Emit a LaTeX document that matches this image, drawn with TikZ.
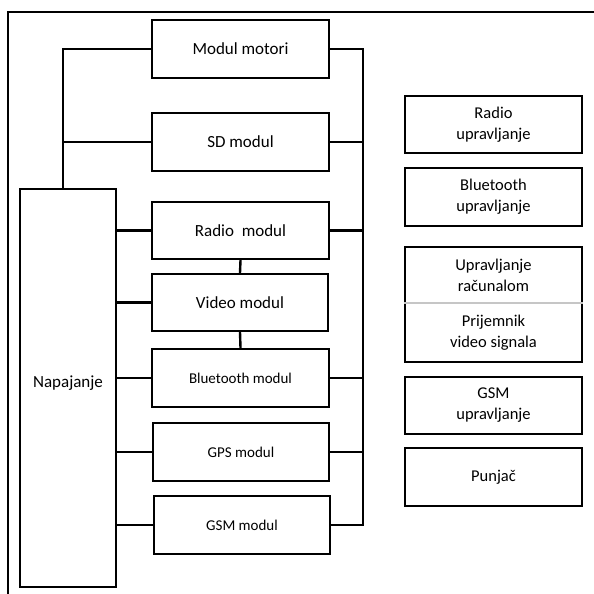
\documentclass[tikz,border=0pt]{standalone}
\usepackage{fontspec}
\setmainfont{Carlito}
\begin{document}
\begin{tikzpicture}[x=1pt,y=-1pt,
  wire/.style={line width=2.4pt},
  blk/.style={draw, line width=2.4pt, minimum width=177pt, minimum height=58pt,
              inner sep=0pt, align=center, font=\fontsize{17}{20}\selectfont},
  smallblk/.style={blk, font=\fontsize{15}{18}\selectfont},
  ctl/.style={blk, font=\fontsize{16.5}{21}\selectfont}]
\useasboundingbox (0,0) rectangle (594,594);

% outer frame (top and left edges)
\coordinate (ftl) at (8,12);
\coordinate (ftr) at (594,12);
\coordinate (fbl) at (8,594);
\draw[wire] (ftr) -- (ftl) -- (fbl);

% power supply
\node[blk, minimum width=96pt, minimum height=398pt] (nap) at (68,388) {};
\node[font=\fontsize{17}{20}\selectfont] at (68,383) {Napajanje};

% modules
\node[blk] (mot) at (240.5,49) {Modul motori};
\node[blk] (sd)  at (240.5,142) {SD modul};
\node[blk, minimum height=57pt] (rad) at (240.5,230.5) {Radio\ \ modul};
\node[blk, minimum width=176pt, minimum height=57pt] (vid) at (240,302.5) {Video modul};
\node[smallblk] (bt)  at (240.5,378) {Bluetooth modul};
\node[smallblk, minimum width=176pt] (gps) at (241,452) {GPS modul};
\node[smallblk, minimum width=176pt] (gsm) at (242,525) {GSM modul};

% bus lines
\coordinate (lbus) at (63,0);
\coordinate (rbus) at (363,0);
\draw[wire] (mot.west) -| (lbus |- nap.north);
\draw[wire] (sd.west) -- (lbus |- sd.west);
\draw[wire] (mot.east) -| (rbus |- gsm.east) -- (gsm.east);
\foreach \m in {sd,rad,bt,gps}
  \draw[wire] (\m.east) -- (rbus |- \m.east);
\foreach \m in {rad,vid,bt,gps,gsm}
  \draw[wire] (\m.west) -- (nap.east |- \m.west);
\draw[wire] (rad.south) -- (vid.north);
\draw[wire] (vid.south) -- (bt.north);

% control units
\node[ctl, minimum height=57pt] (rcu) at (493.5,124.5) {Radio\\upravljanje};
\node[ctl] (bcu) at (493.5,197) {Bluetooth\\upravljanje};
\node[ctl, minimum height=115pt] (pc) at (493.5,304.5) {};
\draw[gray!45, line width=1.5pt] (pc.west |- 0,303) -- (pc.east |- 0,303);
\node[align=center, font=\fontsize{16.5}{21}\selectfont] at (493.5,275) {Upravljanje\\računalom};
\node[align=center, font=\fontsize{16.5}{21}\selectfont] at (493.5,333) {Prijemnik\\video signala};
\node[ctl, minimum height=57pt] (gcu) at (493.5,405.5) {GSM\\upravljanje};
\node[ctl] (pun) at (493.5,477) {Punjač};
\end{tikzpicture}
\end{document}
